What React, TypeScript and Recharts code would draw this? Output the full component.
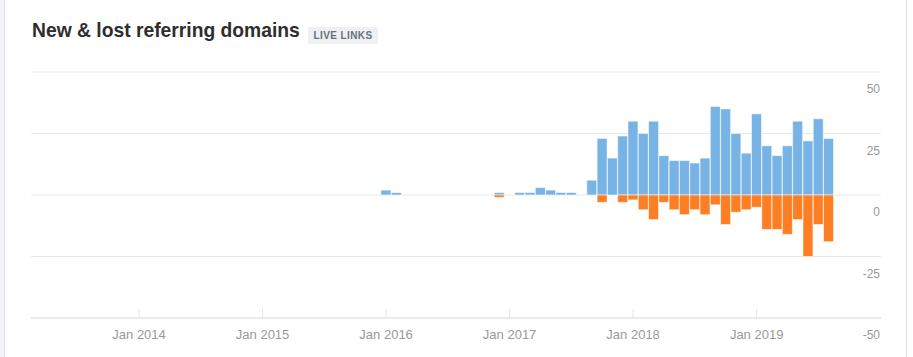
import React from "react";
import { BarChart, Bar, XAxis, YAxis, CartesianGrid } from "recharts";

// axis runs monthly from Mar 2013 to Dec 2019
const startYear = 2013;
const startMonth = 3;
const monthCount = 82;

const categories: string[] = [];
for (let i = 0; i < monthCount; i++) {
  const m = startMonth - 1 + i;
  const yr = startYear + Math.floor(m / 12);
  const mo = (m % 12) + 1;
  categories.push(`${yr}-${mo < 10 ? "0" + mo : mo}`);
}

// values start in Jan 2016 (nothing before that)
const firstValueMonth = "2016-01";
const newDomains = [
  2, 1, 0, 0, 0, 0, 0, 0, 0, 0, 0, 1,
  0, 1, 1, 3, 2, 1, 1, 0, 6, 23, 15, 24,
  30, 25, 30, 16, 14, 14, 13, 15, 36, 35, 25, 17,
  33, 20, 16, 20, 30, 22, 31, 23,
];
const lostDomains = [
  0, 0, 0, 0, 0, 0, 0, 0, 0, 0, 0, -1,
  0, 0, 0, 0, 0, 0, 0, 0, 0, -3, 0, -3,
  -2, -6, -10, -3, -6, -8, -6, -8, -4, -12, -7, -6,
  -5, -14, -14, -16, -10, -25, -12, -19,
];
const yTicks = [-50, -25, 0, 25, 50];

const offset = categories.indexOf(firstValueMonth);
const data = categories.map((month, i) => {
  const k = i - offset;
  return {
    month,
    new: k >= 0 && k < newDomains.length && newDomains[k] ? newDomains[k] : null,
    lost: k >= 0 && k < lostDomains.length && lostDomains[k] ? lostDomains[k] : null,
  };
});

const font = "'Liberation Sans', Arial, sans-serif";

const MonthTick = (props: any) => {
  const { x, y, payload } = props;
  const [yr, mo] = String(payload.value).split("-");
  if (mo !== "01") return <g />;
  return (
    <g>
      <line x1={x} x2={x} y1={y - 9} y2={y} stroke="#e3e3e3" />
      <text x={x} y={y + 21} textAnchor="middle" fill="#999" fontSize={13} fontFamily={font}>
        {`Jan ${yr}`}
      </text>
    </g>
  );
};

// labels sit right-aligned just under each gridline
const ValueTick = (props: any) => {
  const { y, payload } = props;
  return (
    <text x={880} y={y + 21} textAnchor="end" fill="#999" fontSize={12} fontFamily={font}>
      {payload.value}
    </text>
  );
};

export default function App() {
  return (
    <div style={{ position: "relative", width: 913, height: 357, background: "#fff", fontFamily: font, overflow: "hidden" }}>
      <style>{`body{margin:0}`}</style>
      <div style={{ position: "absolute", left: 0, top: 0, width: 4, height: 357, background: "#f2f3f6", borderRight: "1px solid #e3e4e8" }} />
      <div style={{ position: "absolute", left: 906, top: 0, width: 1, height: 357, background: "#e0e0e0" }} />
      <div style={{ position: "absolute", left: 32, top: 21, fontSize: 19.3, lineHeight: "19px", fontWeight: 700, color: "#2e2e2e", whiteSpace: "nowrap" }}>
        New &amp; lost referring domains
      </div>
      <div
        style={{
          position: "absolute",
          left: 308,
          top: 27,
          width: 70,
          height: 17,
          background: "#eef0f3",
          borderRadius: 2,
          color: "#6b6f7c",
          fontSize: 10,
          fontWeight: 700,
          letterSpacing: 0.4,
          lineHeight: "17px",
          textAlign: "center",
        }}
      >
        LIVE LINKS
      </div>
      <div style={{ position: "absolute", left: 0, top: 0 }}>
        <BarChart
          width={913}
          height={357}
          data={data}
          margin={{ top: 72, right: 0, bottom: 0, left: 31 }}
          stackOffset="sign"
          barCategoryGap={0}
          barGap={0}
        >
          <CartesianGrid vertical={false} stroke="#e8e8ea" />
          <XAxis
            dataKey="month"
            interval={0}
            height={39}
            tickSize={0}
            tickMargin={0}
            tickLine={false}
            axisLine={{ stroke: "#e3e3e3" }}
            tick={MonthTick}
            padding={{ left: 0, right: 6 }}
          />
          <YAxis
            orientation="right"
            width={32}
            domain={[-50, 50]}
            ticks={yTicks}
            interval={0}
            axisLine={false}
            tickLine={false}
            tickSize={0}
            tickMargin={0}
            tick={ValueTick}
          />
          <Bar dataKey="new" stackId="a" fill="#78b3e6" stroke="#ffffff" strokeOpacity={0.55} isAnimationActive={false} />
          <Bar dataKey="lost" stackId="a" fill="#fd7e23" stroke="#ffffff" strokeOpacity={0.55} isAnimationActive={false} />
        </BarChart>
      </div>
    </div>
  );
}
